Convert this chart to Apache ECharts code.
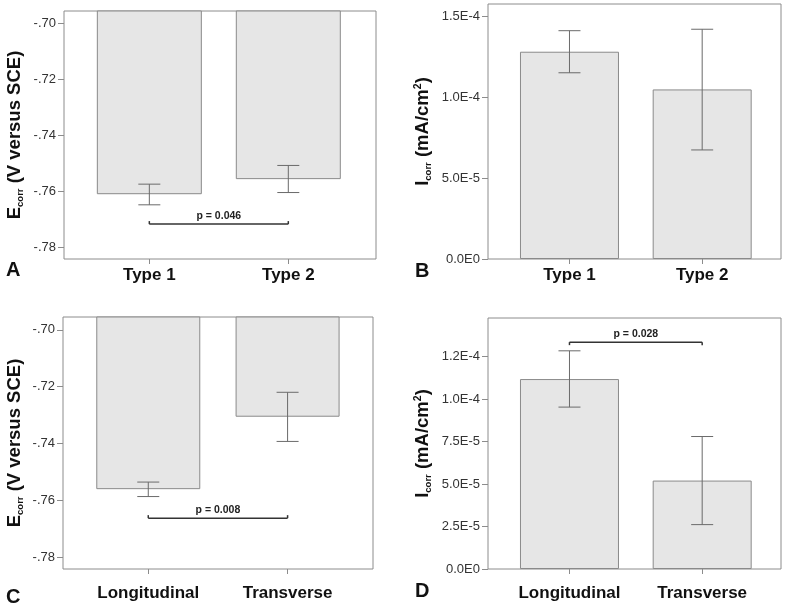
<!DOCTYPE html>
<html>
<head>
<meta charset="utf-8">
<script src="https://cdn.jsdelivr.net/npm/echarts@6/dist/echarts.min.js"></script>
<style>
html,body{margin:0;padding:0;background:#fff;}
#chart{width:787px;height:606px;}
</style>
</head>
<body>
<div id="chart"></div>
<script>
// ---- data ----
const catsType = ['Type 1', 'Type 2'];
const catsDir = ['Longitudinal', 'Transverse'];

const ecorrTypeMean = [-0.7611, -0.7557];
const ecorrTypeLow = [-0.7649, -0.7605];
const ecorrTypeHigh = [-0.7575, -0.7508];

const icorrTypeMean = [1.281e-4, 1.048e-4];
const icorrTypeLow = [1.151e-4, 0.674e-4];
const icorrTypeHigh = [1.411e-4, 1.420e-4];

const ecorrDirMean = [-0.7561, -0.7306];
const ecorrDirLow = [-0.7587, -0.7393];
const ecorrDirHigh = [-0.7536, -0.7220];

const icorrDirMean = [1.117e-4, 0.520e-4];
const icorrDirLow = [0.952e-4, 0.261e-4];
const icorrDirHigh = [1.283e-4, 0.779e-4];

const ecorrTicks = [-0.78, -0.76, -0.74, -0.72, -0.70];
const ecorrTickLabels = ['-.78', '-.76', '-.74', '-.72', '-.70'];
const icorrTicksB = [0, 5e-5, 1e-4, 1.5e-4];
const icorrTickLabelsB = ['0.0E0', '5.0E-5', '1.0E-4', '1.5E-4'];
const icorrTicksD = [0, 2.5e-5, 5e-5, 7.5e-5, 1e-4, 1.25e-4];
const icorrTickLabelsD = ['0.0E0', '2.5E-5', '5.0E-5', '7.5E-5', '1.0E-4', '1.2E-4'];

const sigA = {label: 'p = 0.046', level: -0.7718};
const sigC = {label: 'p = 0.008', level: -0.7663};
const sigD = {label: 'p = 0.028', level: 1.334e-4};

const panelLetters = ['A', 'B', 'C', 'D'];

// ---- styles ----
const FONT = '"Liberation Sans", Arial, sans-serif';
const frameColor = '#8c8c8c';
const barFill = '#e6e6e6';
const barBorder = '#8a8a8a';
const errColor = '#6a6a6a';

const panels = [
  {grid: {left: 64, top: 11, width: 312, height: 248}, xr: [-0.614, 1.631], yr: [-0.7843, -0.6955],
   cats: catsType, mean: ecorrTypeMean, low: ecorrTypeLow, high: ecorrTypeHigh,
   ticks: ecorrTicks, tickLabels: ecorrTickLabels, barWidth: 105,
   name: '{m|E}{s|corr}{m| (V versus SCE)}', nameGap: 39, catMargin: 8, sig: sigA, sigDir: -1},
  {grid: {left: 488, top: 4, width: 293, height: 255}, xr: [-0.614, 1.594], yr: [0, 1.576e-4],
   cats: catsType, mean: icorrTypeMean, low: icorrTypeLow, high: icorrTypeHigh,
   ticks: icorrTicksB, tickLabels: icorrTickLabelsB, barWidth: 99,
   name: '{m|I}{s|corr}{m| (mA/cm}{u|2}{m|)}', nameGap: 55, catMargin: 8, sig: null},
  {grid: {left: 63, top: 317, width: 310, height: 252}, xr: [-0.612, 1.613], yr: [-0.7842, -0.6955],
   cats: catsDir, mean: ecorrDirMean, low: ecorrDirLow, high: ecorrDirHigh,
   ticks: ecorrTicks, tickLabels: ecorrTickLabels, barWidth: 104,
   name: '{m|E}{s|corr}{m| (V versus SCE)}', nameGap: 38, catMargin: 16, sig: sigC, sigDir: -1},
  {grid: {left: 488, top: 318, width: 293, height: 251}, xr: [-0.614, 1.594], yr: [0, 1.476e-4],
   cats: catsDir, mean: icorrDirMean, low: icorrDirLow, high: icorrDirHigh,
   ticks: icorrTicksD, tickLabels: icorrTickLabelsD, barWidth: 99,
   name: '{m|I}{s|corr}{m| (mA/cm}{u|2}{m|)}', nameGap: 55, catMargin: 16, sig: sigD, sigDir: 1}
];

const letterPos = [{left: 6, top: 260}, {left: 415, top: 261}, {left: 6, top: 587}, {left: 415, top: 581}];

function labelFor(ticks, labels) {
  return function (v) {
    for (let i = 0; i < ticks.length; i++) {
      if (Math.abs(ticks[i] - v) < 1e-9) return labels[i];
    }
    return '';
  };
}

const grids = [], xAxes = [], yAxes = [], series = [], titles = [];

panels.forEach((p, k) => {
  grids.push(Object.assign({show: true, borderColor: frameColor, borderWidth: 1, backgroundColor: 'transparent'}, p.grid));
  const catIdx = p.cats.map((c, i) => i);
  xAxes.push({
    type: 'value', gridIndex: k, min: p.xr[0], max: p.xr[1], position: 'bottom',
    axisLine: {show: false, onZero: false}, splitLine: {show: false},
    axisTick: {show: true, customValues: catIdx, length: 5, lineStyle: {color: frameColor}},
    axisLabel: {customValues: catIdx, formatter: v => p.cats[Math.round(v)], margin: p.catMargin,
      fontFamily: FONT, fontWeight: 'bold', fontSize: 17, color: '#111'}
  });
  yAxes.push({
    type: 'value', gridIndex: k, min: p.yr[0], max: p.yr[1], position: 'left',
    axisLine: {show: false, onZero: false}, splitLine: {show: false},
    axisTick: {show: true, customValues: p.ticks, length: 6, lineStyle: {color: frameColor}},
    axisLabel: {customValues: p.ticks, formatter: labelFor(p.ticks, p.tickLabels), margin: 8,
      fontFamily: FONT, fontSize: 13, color: '#333'},
    name: p.name, nameLocation: 'middle', nameGap: p.nameGap, nameRotate: 90,
    nameTextStyle: {
      rich: {
        m: {fontFamily: FONT, fontWeight: 'bold', fontSize: 18.5, color: '#111', lineHeight: 20},
        s: {fontFamily: FONT, fontWeight: 'bold', fontSize: 9.5, color: '#111', lineHeight: 20, verticalAlign: 'bottom'},
        u: {fontFamily: FONT, fontWeight: 'bold', fontSize: 10.5, color: '#111', lineHeight: 20, verticalAlign: 'top'}
      }
    }
  });
  series.push({
    type: 'bar', xAxisIndex: k, yAxisIndex: k, barWidth: p.barWidth, clip: true, z: 2,
    data: p.mean.map((v, i) => [i, v]),
    itemStyle: {color: barFill, borderColor: barBorder, borderWidth: 1},
    silent: true
  });
  series.push({
    type: 'custom', xAxisIndex: k, yAxisIndex: k, silent: true, z: 5,
    data: p.mean.map((v, i) => [i, p.low[i], p.high[i]]),
    renderItem: function (params, api) {
      const x = api.value(0);
      const a = api.coord([x, api.value(1)]);
      const b = api.coord([x, api.value(2)]);
      const h = 11;
      const st = {stroke: errColor, lineWidth: 1};
      return {type: 'group', children: [
        {type: 'line', shape: {x1: a[0], y1: a[1], x2: b[0], y2: b[1]}, style: st},
        {type: 'line', shape: {x1: a[0] - h, y1: a[1], x2: a[0] + h, y2: a[1]}, style: st},
        {type: 'line', shape: {x1: b[0] - h, y1: b[1], x2: b[0] + h, y2: b[1]}, style: st}
      ]};
    }
  });
  if (p.sig) {
    const sig = p.sig, dir = p.sigDir;
    series.push({
      type: 'custom', xAxisIndex: k, yAxisIndex: k, silent: true, z: 5,
      data: [[0, 1, sig.level]],
      renderItem: function (params, api) {
        const a = api.coord([api.value(0), api.value(2)]);
        const b = api.coord([api.value(1), api.value(2)]);
        const st = {stroke: '#333', lineWidth: 1.5};
        const t = 3 * dir;
        return {type: 'group', children: [
          {type: 'line', shape: {x1: a[0], y1: a[1], x2: b[0], y2: b[1]}, style: st},
          {type: 'line', shape: {x1: a[0], y1: a[1], x2: a[0], y2: a[1] + t}, style: st},
          {type: 'line', shape: {x1: b[0], y1: b[1], x2: b[0], y2: b[1] + t}, style: st},
          {type: 'text', style: {text: sig.label, x: (a[0] + b[0]) / 2, y: a[1] - 8,
            align: 'center', verticalAlign: 'middle',
            font: 'bold 10.5px ' + FONT, fill: '#222'}}
        ]};
      }
    });
  }
  titles.push({text: panelLetters[k], left: letterPos[k].left, top: letterPos[k].top, padding: 0,
    textStyle: {fontFamily: FONT, fontWeight: 'bold', fontSize: 20, color: '#111'}});
});

const chart = echarts.init(document.getElementById('chart'), null, {renderer: 'canvas'});
chart.setOption({
  backgroundColor: '#fff',
  animation: false,
  title: titles,
  grid: grids,
  xAxis: xAxes,
  yAxis: yAxes,
  series: series
});
</script>
</body>
</html>
